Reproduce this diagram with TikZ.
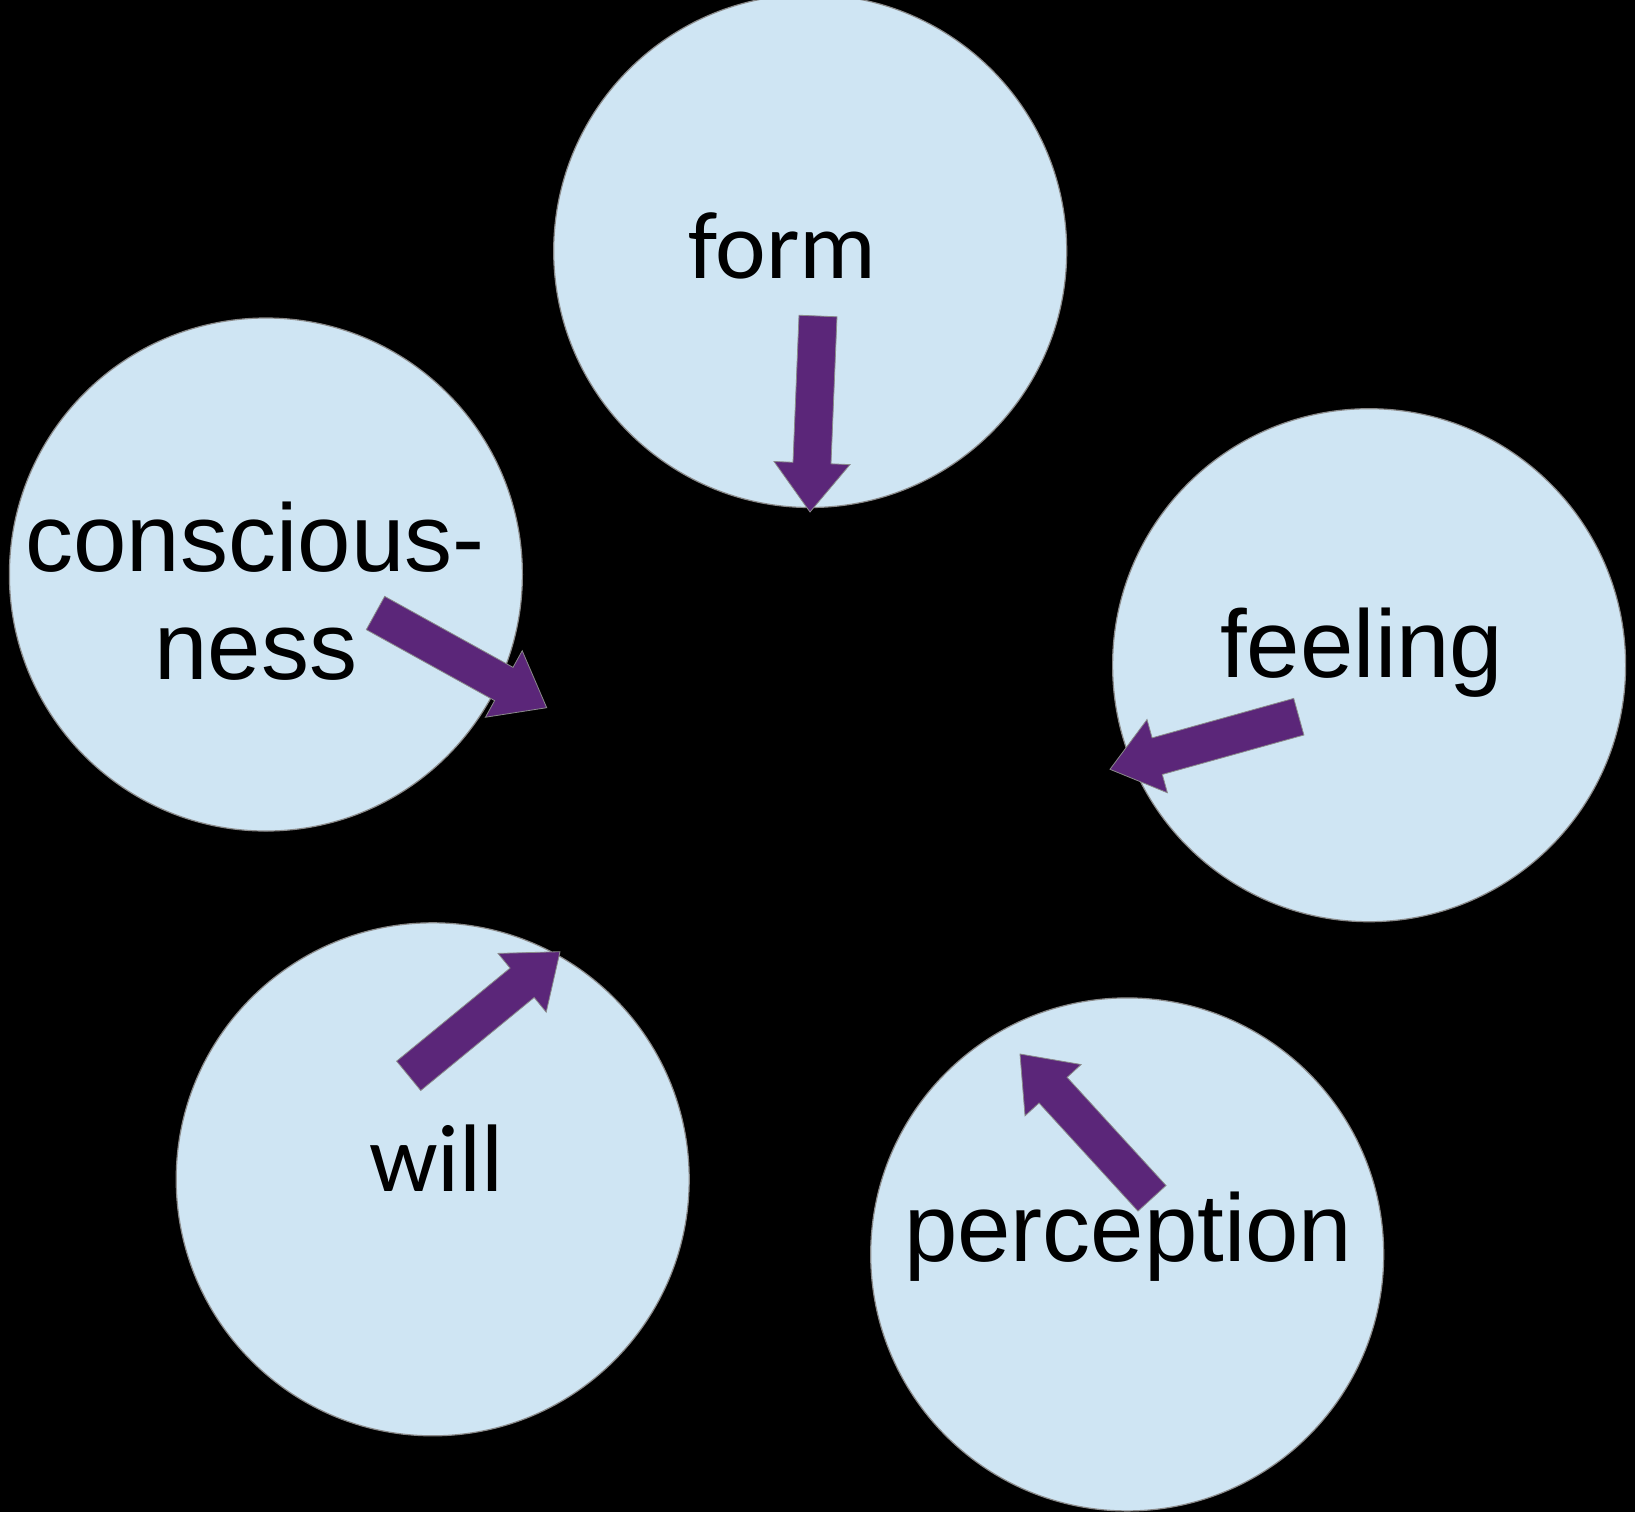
\documentclass[tikz,border=0pt]{standalone}
\usepackage{fontspec}
\setmainfont{Liberation Sans}
\newfontfamily\calib{Carlito}
\usetikzlibrary{calc}
\definecolor{bubble}{HTML}{CFE5F3}
\definecolor{rim}{HTML}{8A8A8A}
\definecolor{purp}{HTML}{5B2679}
\tikzset{
  bubblesty/.style={circle, fill=bubble, draw=rim, line width=0.6pt, minimum size=256.5pt, inner sep=0pt},
  lblA/.style={anchor=base, inner sep=0pt, font=\fontsize{48pt}{54pt}\selectfont},
  lblC/.style={anchor=base, inner sep=0pt, font=\calib\fontsize{48pt}{54pt}\selectfont},
  arrowsty/.style={fill=purp, draw=rim, line width=0.4pt, line join=miter}
}
\newcommand\blockarr[2]{%
  \coordinate (#1b) at ($(#2)!24.5pt!(#1)$);
  \filldraw[arrowsty] ($(#1)!9.5pt!90:(#2)$) -- ($(#1b)!9.5pt!90:(#2)$) -- ($(#1b)!19pt!90:(#2)$) -- (#2) -- ($(#1b)!19pt!-90:(#2)$) -- ($(#1b)!9.5pt!-90:(#2)$) -- ($(#1)!9.5pt!-90:(#2)$) -- cycle;}
\begin{document}
\begin{tikzpicture}[x=0.5pt,y=-0.5pt]
\fill[black] (0,0) rectangle (1635,1512);
\useasboundingbox (0,0) rectangle (1635,1512);
% circles
\node[bubblesty] (cform) at (810.2,251) {};
\node[bubblesty] (ccons) at (265.9,574.5) {};
\node[bubblesty] (cfeel) at (1369.1,665.2) {};
\node[bubblesty] (cwill) at (432.7,1179.3) {};
\node[bubblesty] (cperc) at (1127.2,1254.4) {};
% labels
\node[lblC] (tform) at (782.5,278.3) {form};
\node[lblA] (tcons1) at (255,571.7) {conscious-};
\node[lblA] (tcons2) at (255.8,679) {ness};
\node[lblA] (tfeel) at (1361.7,677.3) {feeling};
\node[lblC] (twill) at (436.7,1191.7) {will};
\node[lblA] (tperc) at (1128.3,1261.7) {perception};
% arrows
\coordinate (afT) at (818,316);      \coordinate (afH) at (810,512);
\coordinate (acT) at (375.5,613);    \coordinate (acH) at (546.7,707.7);
\coordinate (aeT) at (1298.8,716.7); \coordinate (aeH) at (1110,769.3);
\coordinate (awT) at (408.7,1075.8); \coordinate (awH) at (560,951.7);
\coordinate (apT) at (1152,1198.3);  \coordinate (apH) at (1020,1054);
\blockarr{afT}{afH}
\blockarr{acT}{acH}
\blockarr{aeT}{aeH}
\blockarr{awT}{awH}
\blockarr{apT}{apH}
\end{tikzpicture}
\end{document}
